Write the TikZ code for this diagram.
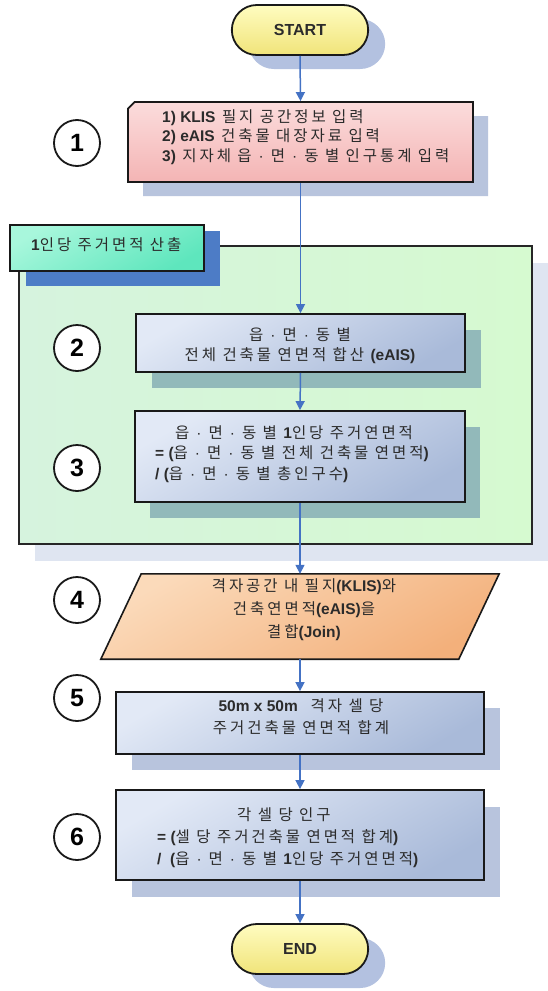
\documentclass[tikz,border=0pt]{standalone}
\usepackage{fontspec}
\setmainfont{Noto Sans CJK KR}[LetterSpace=19]
\newfontfamily\latf{Liberation Sans}
\usetikzlibrary{shapes.misc,shadows,arrows.meta,calc}
\newcommand\B[1]{{\latf\bfseries #1}}
\newcommand\md{\hspace{7pt}{\latf ·}\hspace{7pt}}
\definecolor{termTop}{HTML}{FFFCC0}
\definecolor{termBot}{HTML}{F0E47A}
\definecolor{shBlue}{HTML}{B3C1E0}
\definecolor{pinkTop}{HTML}{FBDCDC}
\definecolor{pinkBot}{HTML}{F4B4B4}
\definecolor{regL}{HTML}{D6F3DE}
\definecolor{regR}{HTML}{D6FAD0}
\definecolor{labTop}{HTML}{A8F7DC}
\definecolor{labBot}{HTML}{5EE6BD}
\definecolor{labSh}{HTML}{4D7CC6}
\definecolor{regSh}{HTML}{DFE5F1}
\definecolor{procL}{HTML}{E2E9F6}
\definecolor{procD}{HTML}{A9BAD9}
\definecolor{procShG}{HTML}{92B9BA}
\definecolor{procSh}{HTML}{B8C4DD}
\definecolor{orL}{HTML}{FBDABA}
\definecolor{orD}{HTML}{F3B07B}
\definecolor{orSh}{HTML}{C5CFE3}
\definecolor{arrowBlue}{HTML}{4472C4}
\definecolor{txt}{HTML}{2B2B2B}
\begin{document}
\begin{tikzpicture}[x=1pt,y=-1pt,
  kor/.style={text=txt,font=\fontsize{15.5}{20.5}\selectfont,inner sep=0pt},
  term/.style={rounded rectangle,draw=black!90,line width=1.8pt,minimum width=143pt,minimum height=50pt,
     top color=termTop,bottom color=termBot,
     drop shadow={shadow xshift=17pt,shadow yshift=-14pt,fill=shBlue,opacity=1},
     font=\latf\bfseries\fontsize{16}{16}\selectfont,text=txt},
  procbox/.style={rectangle,draw=black!90,line width=1.8pt,top color=procL,bottom color=procD,shading angle=30},
  numc/.style={circle,draw=black!90,line width=1.8pt,fill=white,minimum size=46pt,inner sep=0pt,
     font=\latf\bfseries\fontsize{25}{25}\selectfont},
  flow/.style={draw=arrowBlue,line width=1.5pt,-{Triangle[length=9pt,width=9pt]}}]
\useasboundingbox (0,0) rectangle (547,991);
\fill[white] (0,0) rectangle (547,991);

% START
\node[term] (start) at (300,30) {START};

% box 1
\node[chamfered rectangle,chamfered rectangle corners=north west,
      chamfered rectangle xsep=15pt,chamfered rectangle ysep=16pt,
      draw=black!90,line width=1.8pt,minimum width=345pt,minimum height=80pt,
      top color=pinkTop,bottom color=pinkBot,
      drop shadow={shadow xshift=15pt,shadow yshift=-14pt,fill=procSh,opacity=1}] (box1) at (300.5,142) {};
\node[kor,align=left,anchor=west,font=\fontsize{15.5}{19.5}\selectfont] (t1) at (162,137) {\B{1) KLIS} 필지 공간정보 입력\\\B{2) eAIS} 건축물 대장자료 입력\\\B{3)} 지자체 읍\md 면\md 동 별 인구통계 입력};
\node[numc] (c1) at (77,143) {1};

% region
\node[rectangle,draw=black!85,line width=1.3pt,minimum width=513pt,minimum height=298pt,
      left color=regL,right color=regR,
      drop shadow={shadow xshift=16pt,shadow yshift=-17pt,fill=regSh,opacity=1}] (region) at (275.5,395) {};
\fill[labSh] (26,231) rectangle (220,286);
\node[rectangle,draw=black!90,line width=1.5pt,minimum width=194pt,minimum height=46pt,
      top color=labTop,bottom color=labBot,shading angle=30] (label) at (107,248) {};
\node[kor,anchor=west] (t0) at (31,245) {\B{1}인당 주거면적 산출};

% box 2
\node[procbox,minimum width=329pt,minimum height=58pt,
      drop shadow={shadow xshift=16pt,shadow yshift=-16pt,fill=procShG,opacity=1}] (box2) at (300.5,343) {};
\node[kor,align=center,font=\fontsize{15.5}{20}\selectfont] (t2) at (300,346) {읍\md 면\md 동 별\\전체 건축물 연면적 합산 \B{(eAIS)}};
\node[numc] (c2) at (77,348) {2};

% box 3
\node[procbox,minimum width=330pt,minimum height=91pt,
      drop shadow={shadow xshift=15pt,shadow yshift=-16pt,fill=procShG,opacity=1}] (box3) at (300,456.5) {};
\node[kor,align=left,anchor=west] (t3) at (155,454) {\hspace*{20pt}읍\md 면\md 동 별 \B{1}인당 주거연면적\\\B{= (}읍\md 면\md 동 별 전체 건축물 연면적\B{)}\\\B{/ (}읍\md 면\md 동 별 총인구수\B{)}};
\node[numc] (c3) at (77,468) {3};

% box 4 (parallelogram)
\node[rectangle,minimum width=398pt,minimum height=85pt,inner sep=0pt] (box4) at (300,616.5) {};
\fill[orSh,shift={(5pt,-6pt)}] (box4.south west) -- ($(box4.south west)+(358,0)$) -- (box4.north east) -- ($(box4.north east)-(358,0)$) -- cycle;
\draw[draw=black!90,line width=1.6pt,top color=orL,bottom color=orD,shading angle=30]
  (box4.south west) -- ($(box4.south west)+(358,0)$) -- (box4.north east) -- ($(box4.north east)-(358,0)$) -- cycle;
\node[kor,align=center,font=\fontsize{15.5}{23}\selectfont] (t4) at (304,610) {격자공간 내 필지\B{(KLIS)}와\\건축연면적\B{(eAIS)}을\\결합\B{(Join)}};
\node[numc] (c4) at (77,600) {4};

% box 5
\node[procbox,minimum width=368pt,minimum height=62pt,
      drop shadow={shadow xshift=16pt,shadow yshift=-16pt,fill=procSh,opacity=1}] (box5) at (300,723) {};
\node[kor,align=center,font=\fontsize{15.5}{22}\selectfont] (t5) at (301,717) {\B{50m x 50m}\ \ 격자 셀 당\\주거건축물 연면적 합계};
\node[numc] (c5) at (77,698) {5};

% box 6
\node[procbox,minimum width=368pt,minimum height=90pt,
      drop shadow={shadow xshift=16pt,shadow yshift=-17pt,fill=procSh,opacity=1}] (box6) at (300,835) {};
\node[kor,align=left,anchor=west,font=\fontsize{15.5}{22}\selectfont] (t6) at (157,838) {\hspace*{80pt}각 셀 당 인구\\\B{= (}셀 당 주거건축물 연면적 합계\B{)}\\\B{/ \ (}읍\md 면\md 동 별 \B{1}인당 주거연면적\B{)}};
\node[numc] (c6) at (77,837) {6};

% END
\node[term] (end) at (300,949) {END};

% connectors
\draw[flow] (start.south) -- (box1.north);
\draw[flow] (box1.south) -- (box2.north);
\draw[flow] (box2.south) -- (box3.north);
\draw[flow] (box3.south) -- (box4.north);
\draw[flow] (box4.south) -- (box5.north);
\draw[flow] (box5.south) -- (box6.north);
\draw[flow] (box6.south) -- (end.north);
\end{tikzpicture}
\end{document}
